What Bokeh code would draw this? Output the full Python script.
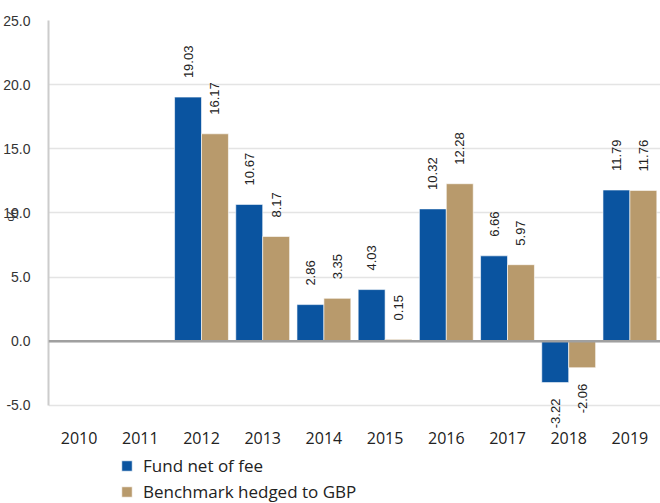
from bokeh.plotting import figure
from bokeh.models import ColumnDataSource, FactorRange, Range1d, LabelSet, Legend, LegendItem, Span, NumeralTickFormatter, FixedTicker
from bokeh.core.properties import value
from bokeh.transform import dodge
from bokeh.embed import file_html
from bokeh.resources import INLINE
import math

years = ["2010", "2011", "2012", "2013", "2014", "2015", "2016", "2017", "2018", "2019"]
fund = [None, None, 19.03, 10.67, 2.86, 4.03, 10.32, 6.66, -3.22, 11.79]
bench = [None, None, 16.17, 8.17, 3.35, 0.15, 12.28, 5.97, -2.06, 11.76]
series_names = ["Fund net of fee", "Benchmark hedged to GBP"]
y_ticks = [-5, 0, 5, 10, 15, 20, 25]

BLUE = "#0a54a0"
TAN = "#b89a6c"

p = figure(x_range=FactorRange(*years), y_range=Range1d(-12.64, 25),
           width=660, height=503, output_backend="svg", toolbar_location=None,
           min_border_left=48, min_border_right=0, min_border_top=20, min_border_bottom=0)
p.outline_line_color = None
p.xgrid.grid_line_color = None
p.ygrid.grid_line_color = "#e4e4e4"
p.ygrid.grid_line_width = 1.5
p.ygrid.ticker = FixedTicker(ticks=y_ticks)

renderers = []
for vals, off, col in [(fund, -0.22, BLUE), (bench, 0.22, TAN)]:
    xs = [y for y, v in zip(years, vals) if v is not None]
    vs = [v for v in vals if v is not None]
    src = ColumnDataSource(dict(year=xs, val=vs))
    r = p.vbar(x=dodge("year", off, range=p.x_range), top="val", bottom=0, width=0.44,
               source=src, fill_color=col, line_color="white", line_width=0.6)
    renderers.append(r)
    for sign, align, yoff in [(1, "left", 19), (-1, "right", -16)]:
        sel = [(x, v) for x, v in zip(xs, vs) if (v >= 0) == (sign > 0)]
        if not sel:
            continue
        s2 = ColumnDataSource(dict(year=[a for a, _ in sel], val=[b for _, b in sel],
                                   label=["%.2f" % b for _, b in sel]))
        ls = LabelSet(x=dodge("year", off, range=p.x_range), y="val", text="label", source=s2,
                      angle=math.pi / 2, text_align=align, text_baseline="middle",
                      y_offset=yoff, text_font=value("Liberation Sans"), text_font_size="13px",
                      text_color="#222222")
        p.add_layout(ls)

zero = Span(location=0, dimension="width", line_color="#a0a0a0", line_width=2.5)
p.add_layout(zero)

p.yaxis.ticker = FixedTicker(ticks=y_ticks)
p.yaxis.bounds = (-5, 25)
p.yaxis.formatter = NumeralTickFormatter(format="0.0")
p.yaxis.major_tick_line_color = None
p.yaxis.minor_tick_line_color = None
p.yaxis.axis_line_color = "#cccccc"
p.yaxis.axis_line_width = 2
p.yaxis.major_label_text_font = "Liberation Sans"
p.yaxis.major_label_text_font_size = "14px"
p.yaxis.major_label_text_color = "#333333"
p.yaxis.major_label_standoff = 12
# non-breaking spaces lift the "%" to the middle of the -5..25 span
p.yaxis.axis_label = "\u00a0" * 24 + "%"
p.yaxis.axis_label_text_font = "Liberation Sans"
p.yaxis.axis_label_text_font_style = "normal"
p.yaxis.axis_label_text_font_size = "14px"
p.yaxis.axis_label_text_color = "#333333"
p.yaxis.axis_label_standoff = -21

p.xaxis.fixed_location = -5
p.xaxis.axis_line_color = None
p.xaxis.major_tick_line_color = None
p.xaxis.minor_tick_line_color = None
p.xaxis.major_label_text_font = "Open Sans"
p.xaxis.major_label_text_font_size = "16px"
p.xaxis.major_label_text_color = "#222222"
p.xaxis.major_label_standoff = 21

legend = Legend(items=[LegendItem(label=series_names[0], renderers=[renderers[0]]),
                       LegendItem(label=series_names[1], renderers=[renderers[1]])],
                location=(72, 0), orientation="vertical",
                border_line_color=None, background_fill_alpha=0,
                padding=0, margin=0, spacing=3,
                glyph_width=13, glyph_height=13, label_height=20,
                label_text_font="Open Sans", label_text_font_size="17px",
                label_text_color="#222222", label_standoff=10)
p.add_layout(legend, "center")

open("out.html", "w").write(file_html(p, INLINE))
